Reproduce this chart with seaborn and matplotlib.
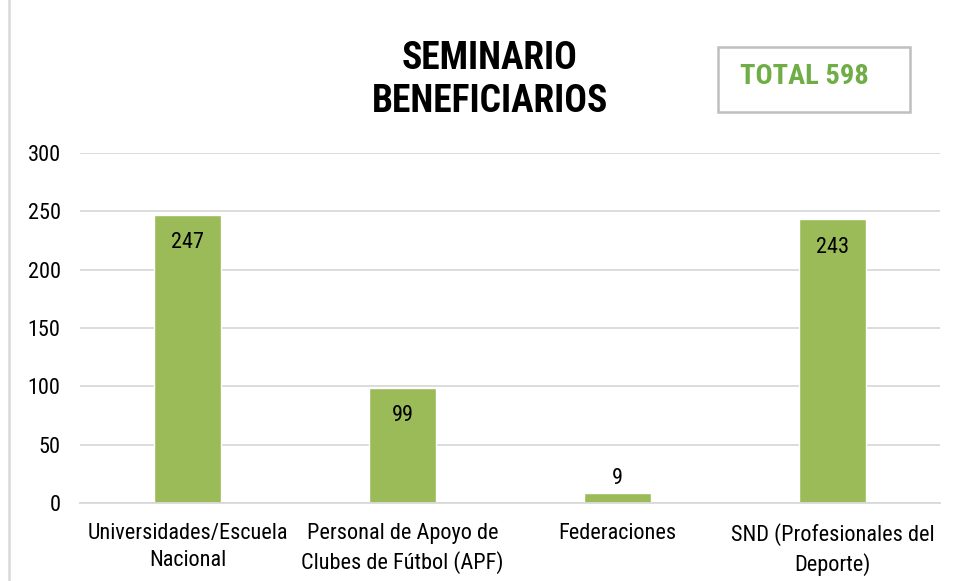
import matplotlib
matplotlib.use("Agg")
import matplotlib.pyplot as plt
from matplotlib.patches import Rectangle
import seaborn as sns
import pandas as pd

# Data
categories = ["Universidades/Escuela\nNacional", "Personal de Apoyo de\nClubes de Fútbol (APF)",
              "Federaciones", "SND (Profesionales del\nDeporte)"]
beneficiarios = [247, 99, 9, 243]
title = "SEMINARIO\nBENEFICIARIOS"
total_label = "TOTAL 598"

sns.set_style("white")
plt.rcParams["font.family"] = ["Roboto Condensed", "Liberation Sans", "DejaVu Sans"]
plt.rcParams["text.color"] = "black"

df = pd.DataFrame({"cat": categories, "val": beneficiarios})

fig = plt.figure(figsize=(9.55, 5.81), dpi=100)
ax = fig.add_axes([80 / 955, 78 / 581, 860 / 955, 350 / 581])

sns.barplot(data=df, x="cat", y="val", color="#9bbb59", saturation=1, width=0.307, ax=ax)

ax.set_ylim(0, 300)
ax.set_yticks(range(0, 301, 50))
ax.set_xlim(-0.5, 3.5)
ax.grid(axis="y", color="#d9d9d9", linewidth=1.3)
ax.set_axisbelow(True)
for s in ["top", "right", "left"]:
    ax.spines[s].set_visible(False)
ax.spines["bottom"].set_color("#d9d9d9")
ax.spines["bottom"].set_linewidth(1.3)
ax.set_xlabel("")
ax.set_ylabel("")
ax.tick_params(axis="both", length=0, labelsize=16, colors="black")
ax.tick_params(axis="y", pad=14)
ax.tick_params(axis="x", pad=14.5)
for lbl in ax.get_xticklabels():
    lbl.set_linespacing(1.36)

# value labels: inside the top of tall bars, above short ones
for bar, v in zip(ax.patches, beneficiarios):
    cx = bar.get_x() + bar.get_width() / 2
    if v > 30:
        ax.annotate(str(v), (cx, v), xytext=(0, -20), textcoords="offset points",
                    ha="center", va="center", fontsize=16)
    else:
        ax.annotate(str(v), (cx, v), xytext=(0, 10), textcoords="offset points",
                    ha="center", va="center", fontsize=16)

fig.text(490 / 955, 1 - 80 / 581, title, ha="center", va="center",
         fontsize=27, fontweight="bold", linespacing=1.18)

# total box
fig.patches.append(Rectangle((718 / 955, 1 - 112 / 581), 192 / 955, 65 / 581,
                             transform=fig.transFigure, fill=False,
                             edgecolor="#bfbfbf", linewidth=1.8))
fig.text(740 / 955, 1 - 76 / 581, total_label, ha="left", va="center",
         fontsize=20.5, fontweight="bold", color="#70ad47")

# outer chart border
fig.patches.append(Rectangle((9 / 955, -0.1), 1.1, 1.1 + (1 - 14 / 581),
                             transform=fig.transFigure, fill=False,
                             edgecolor="#d9d9d9", linewidth=1.8))

fig.savefig("out.png", dpi=100)
